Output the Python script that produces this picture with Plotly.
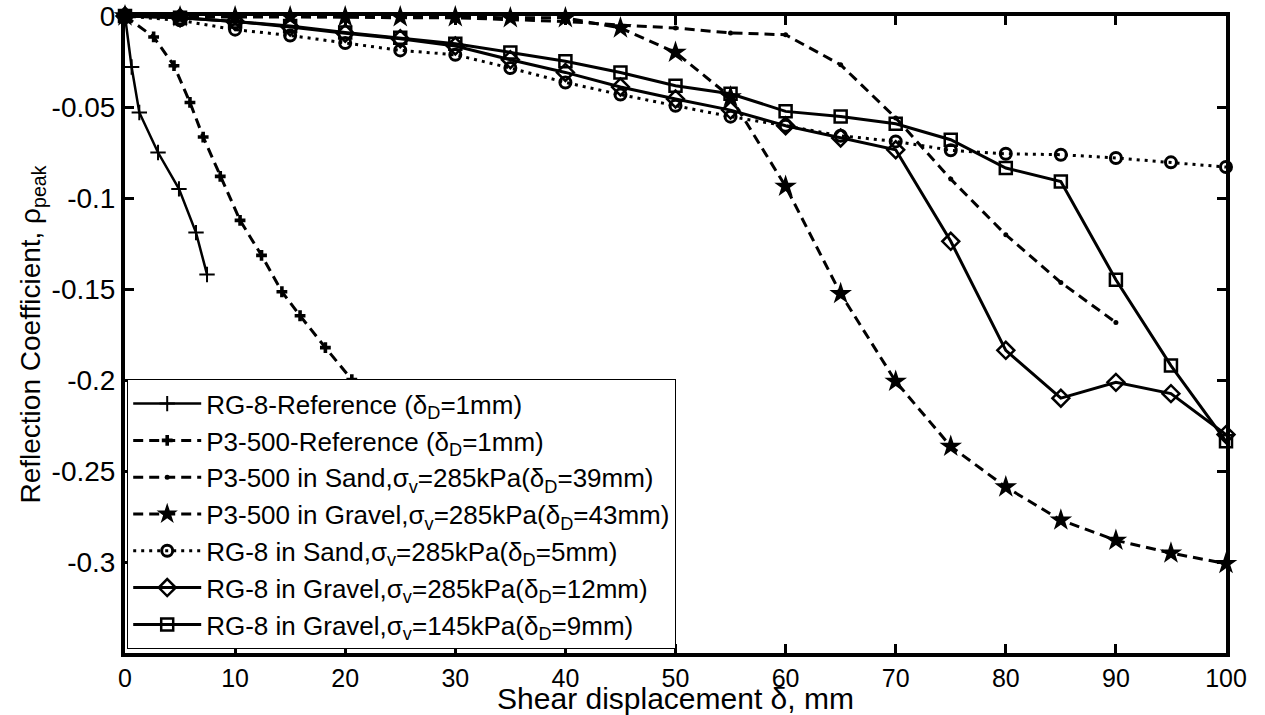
import plotly.graph_objects as go

# ---------------- data ----------------
x_step = [0, 5, 10, 15, 20, 25, 30, 35, 40, 45, 50, 55, 60, 65, 70, 75, 80, 85, 90, 95, 100]

rg8_ref_x = [0, 0.6, 1.3, 3.0, 4.9, 6.45, 7.45]
rg8_ref_y = [0, -0.028, -0.053, -0.075, -0.095, -0.119, -0.142]

p3_ref_x = [0, 2.6, 4.45, 5.9, 7.1, 8.65, 10.45, 12.4, 14.25, 15.9, 18.2, 20.6]
p3_ref_y = [0, -0.0115, -0.0273, -0.0475, -0.0665, -0.0881, -0.1123, -0.1315, -0.1515, -0.1647, -0.1822, -0.1998]

p3_sand_x = [0, 5, 10, 15, 20, 25, 30, 35, 40, 45, 50, 55, 60, 65, 70, 75, 80, 85, 90]
p3_sand_y = [0, 0, 0, -0.0003, -0.0005, -0.001, -0.001, -0.002, -0.003, -0.005, -0.0066, -0.0093,
             -0.0103, -0.0268, -0.056, -0.0896, -0.1202, -0.1464, -0.1684]

p3_gravel_y = [0, -0.0005, -0.0005, -0.0005, -0.0005, -0.0005, -0.0005, -0.001, -0.001, -0.0066, -0.02,
               -0.0445, -0.0936, -0.1526, -0.2008, -0.2365, -0.2588, -0.277, -0.2881, -0.2951, -0.3009]

rg8_sand_y = [0, -0.0024, -0.0075, -0.0107, -0.0148, -0.0189, -0.0213, -0.0286, -0.0365, -0.0432, -0.0493,
              -0.0553, -0.0603, -0.0658, -0.0689, -0.0738, -0.0757, -0.0762, -0.078, -0.0804, -0.083]

rg8_gravel285_y = [0, -0.001, -0.003, -0.006, -0.0095, -0.0125, -0.0165, -0.024, -0.031, -0.039, -0.0456,
                   -0.0517, -0.0603, -0.067, -0.0735, -0.1238, -0.1837, -0.21, -0.2013, -0.2075, -0.23]

rg8_gravel145_y = [0, -0.001, -0.003, -0.0055, -0.009, -0.012, -0.0152, -0.020, -0.0249, -0.031, -0.0383,
                   -0.0427, -0.0524, -0.0552, -0.0592, -0.068, -0.0835, -0.091, -0.1449, -0.1921, -0.2337]

names = [
    "RG-8-Reference (δ<sub>D</sub>=1mm)",
    "P3-500-Reference (δ<sub>D</sub>=1mm)",
    "P3-500 in Sand,σ<sub>v</sub>=285kPa(δ<sub>D</sub>=39mm)",
    "P3-500 in Gravel,σ<sub>v</sub>=285kPa(δ<sub>D</sub>=43mm)",
    "RG-8 in Sand,σ<sub>v</sub>=285kPa(δ<sub>D</sub>=5mm)",
    "RG-8 in Gravel,σ<sub>v</sub>=285kPa(δ<sub>D</sub>=12mm)",
    "RG-8 in Gravel,σ<sub>v</sub>=145kPa(δ<sub>D</sub>=9mm)",
]

x_ticks = [0, 10, 20, 30, 40, 50, 60, 70, 80, 90, 100]
x_ticktext = ["0", "10", "20", "30", "40", "50", "60", "70", "80", "90", "100"]
y_ticks = [0, -0.05, -0.1, -0.15, -0.2, -0.25, -0.3]
y_ticktext = ["0", "-0.05", "-0.1", "-0.15", "-0.2", "-0.25", "-0.3"]

# ---------------- figure ----------------
K = "black"
FONT = "Liberation Sans, Arial"
DASH = "10px,6px"
fig = go.Figure()

fig.add_trace(go.Scatter(x=rg8_ref_x, y=rg8_ref_y, name=names[0], mode="lines+markers",
                         line=dict(color=K, width=2.5),
                         marker=dict(symbol="cross-thin", size=11, line=dict(color=K, width=2)),
                         cliponaxis=False))
fig.add_trace(go.Scatter(x=p3_ref_x, y=p3_ref_y, name=names[1], mode="lines+markers",
                         line=dict(color=K, width=3, dash=DASH),
                         marker=dict(symbol="cross", size=9, color=K),
                         cliponaxis=False))
fig.add_trace(go.Scatter(x=p3_sand_x, y=p3_sand_y, name=names[2], mode="lines+markers",
                         line=dict(color=K, width=3, dash=DASH),
                         marker=dict(symbol="circle", size=5, color=K),
                         cliponaxis=False))
fig.add_trace(go.Scatter(x=x_step, y=p3_gravel_y, name=names[3], mode="lines+markers",
                         line=dict(color=K, width=3, dash=DASH),
                         marker=dict(symbol="star", size=17, color=K),
                         cliponaxis=False))
fig.add_trace(go.Scatter(x=x_step, y=rg8_sand_y, name=names[4], mode="lines+markers",
                         line=dict(color=K, width=3, dash="3px,5px"),
                         marker=dict(symbol="circle-open", size=11, color=K, line=dict(width=3)),
                         cliponaxis=False))
fig.add_trace(go.Scatter(x=x_step, y=rg8_gravel285_y, name=names[5], mode="lines+markers",
                         line=dict(color=K, width=3),
                         marker=dict(symbol="diamond-open", size=13, color=K, line=dict(width=2.5)),
                         cliponaxis=False))
fig.add_trace(go.Scatter(x=x_step, y=rg8_gravel145_y, name=names[6], mode="lines+markers",
                         line=dict(color=K, width=3),
                         marker=dict(symbol="square-open", size=12, color=K, line=dict(width=2.5)),
                         cliponaxis=False))

axis_common = dict(showline=True, linewidth=4, linecolor=K, mirror="ticks",
                   ticks="inside", ticklen=9, tickwidth=3, tickcolor=K,
                   showgrid=False, zeroline=False)

fig.update_xaxes(range=[0, 100], tickmode="array", tickvals=x_ticks, ticktext=x_ticktext,
                 tickfont=dict(family=FONT, size=25, color=K),
                 title=dict(text="Shear displacement δ, mm", standoff=3,
                            font=dict(family=FONT, size=30, color=K)),
                 **axis_common)
fig.update_yaxes(range=[-0.35, 0], tickmode="array", tickvals=y_ticks, ticktext=y_ticktext,
                 tickfont=dict(family=FONT, size=28, color=K),
                 title=dict(text="Reflection Coefficient, ρ<sub>peak</sub>", standoff=4,
                            font=dict(family=FONT, size=28, color=K)),
                 **axis_common)

fig.update_layout(
    width=1265, height=715,
    margin=dict(l=125, r=39, t=16, b=62, autoexpand=False),
    paper_bgcolor="white", plot_bgcolor="white",
    font=dict(family=FONT, color=K),
    legend=dict(x=0.002, y=0.006, xanchor="left", yanchor="bottom",
                bgcolor="white", bordercolor=K, borderwidth=1,
                font=dict(family=FONT, size=26, color=K),
                tracegroupgap=0, itemwidth=68),
    showlegend=True,
)

fig.write_html("out.html")
